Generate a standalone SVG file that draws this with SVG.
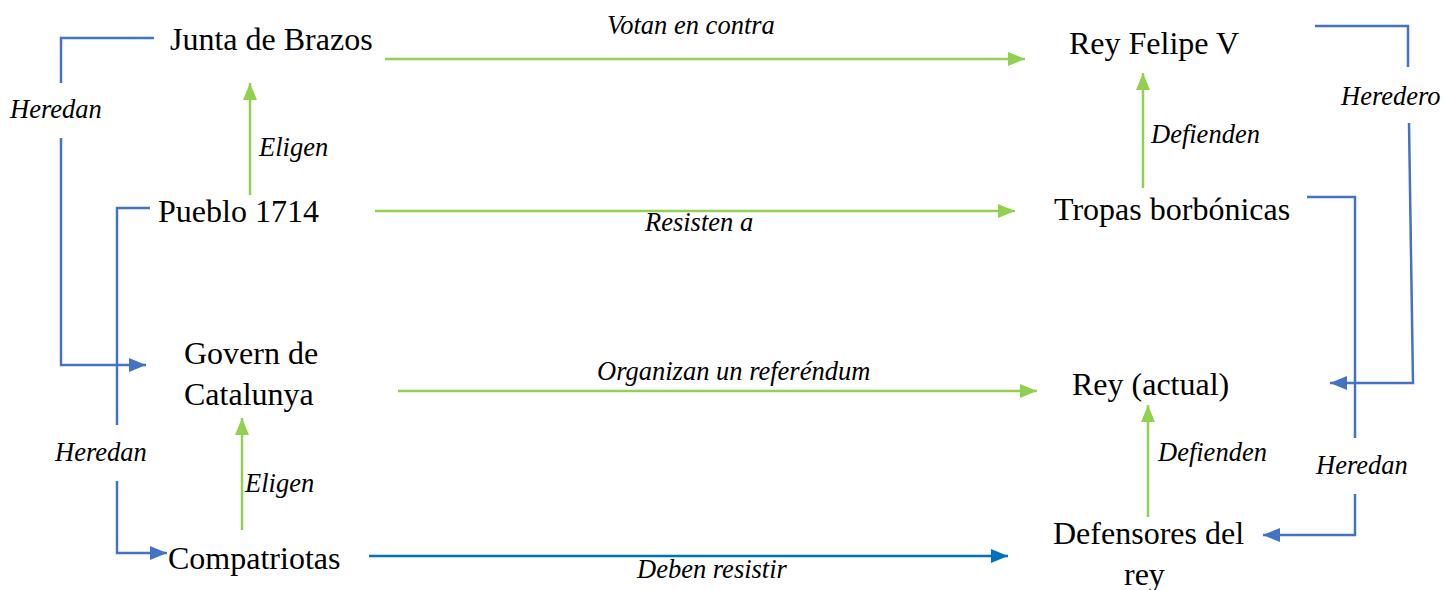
<svg xmlns="http://www.w3.org/2000/svg" width="1445" height="590" viewBox="0 0 1445 590">
<style>
.node{font-family:"Liberation Serif","Times New Roman",serif;font-size:32px;fill:#000}
.lbl{font-family:"Liberation Serif","Times New Roman",serif;font-size:26.5px;font-style:italic;fill:#000}
.g{stroke:#92D050;stroke-width:2.5;fill:none}
.b{stroke:#4472C4;stroke-width:2.5;fill:none}
.d{stroke:#0070C0;stroke-width:2.5;fill:none}
</style>
<defs>
<marker id="ag" markerUnits="userSpaceOnUse" markerWidth="18" markerHeight="14" refX="17" refY="7" orient="auto"><path d="M0,0 L17,7 L0,14 Z" fill="#92D050"/></marker>
<marker id="ab" markerUnits="userSpaceOnUse" markerWidth="18" markerHeight="14" refX="17" refY="7" orient="auto"><path d="M0,0 L17,7 L0,14 Z" fill="#4472C4"/></marker>
<marker id="ad" markerUnits="userSpaceOnUse" markerWidth="18" markerHeight="14" refX="17" refY="7" orient="auto"><path d="M0,0 L17,7 L0,14 Z" fill="#0070C0"/></marker>
</defs>
<g id="connectors">
<path class="g" d="M385,59 H1025" marker-end="url(#ag)"/>
<path class="g" d="M375,211 H1015" marker-end="url(#ag)"/>
<path class="g" d="M398,391 H1037" marker-end="url(#ag)"/>
<path class="d" d="M369,556 H1008" marker-end="url(#ad)"/>
<path class="g" d="M250,195 V83" marker-end="url(#ag)"/>
<path class="g" d="M242,530 V418" marker-end="url(#ag)"/>
<path class="g" d="M1143,188 V73" marker-end="url(#ag)"/>
<path class="g" d="M1148,517 V405" marker-end="url(#ag)"/>
<path class="b" d="M154,38 H61 V83"/>
<path class="b" d="M61,138 V365 H146" marker-end="url(#ab)"/>
<path class="b" d="M150,208 H117 V425"/>
<path class="b" d="M117,481 V553 H167" marker-end="url(#ab)"/>
<path class="b" d="M1315,26 H1408 V67"/>
<path class="b" d="M1409,123 L1413,383 H1330" marker-end="url(#ab)"/>
<path class="b" d="M1307,197 H1355 V438"/>
<path class="b" d="M1355,494 V535 H1263" marker-end="url(#ab)"/>
</g>
<g id="labels">
<text class="lbl" x="607" y="34">Votan en contra</text>
<text class="lbl" x="10" y="118">Heredan</text>
<text class="lbl" x="259" y="156">Eligen</text>
<text class="lbl" x="1151" y="143">Defienden</text>
<text class="lbl" x="1341" y="105">Heredero</text>
<text class="lbl" x="645" y="231">Resisten a</text>
<text class="lbl" x="597" y="380">Organizan un referéndum</text>
<text class="lbl" x="55" y="461">Heredan</text>
<text class="lbl" x="245" y="492">Eligen</text>
<text class="lbl" x="1158" y="461">Defienden</text>
<text class="lbl" x="1316" y="474">Heredan</text>
<text class="lbl" x="637" y="578">Deben resistir</text>
</g>
<g id="junta"><text class="node" x="170" y="50">Junta de Brazos</text></g>
<g id="felipe"><text class="node" x="1069" y="54">Rey Felipe V</text></g>
<g id="pueblo"><text class="node" x="158" y="222">Pueblo 1714</text></g>
<g id="tropas"><text class="node" x="1054" y="220">Tropas borbónicas</text></g>
<g id="govern"><text class="node" x="184" y="364">Govern de</text><text class="node" x="184" y="405">Catalunya</text></g>
<g id="rey-actual"><text class="node" x="1072" y="395">Rey (actual)</text></g>
<g id="compatriotas"><text class="node" x="168" y="569">Compatriotas</text></g>
<g id="defensores"><text class="node" x="1053" y="544">Defensores del</text><text class="node" x="1124" y="585">rey</text></g>
</svg>
